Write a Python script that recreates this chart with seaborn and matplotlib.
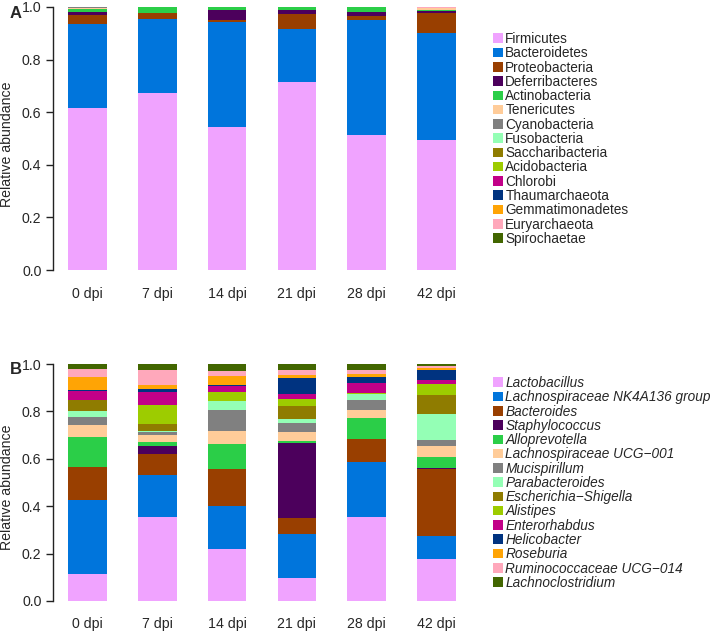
import numpy as np
import pandas as pd
import matplotlib
matplotlib.use("Agg")
import matplotlib.pyplot as plt
from matplotlib.patches import Patch
import seaborn as sns

# ---------------- data ----------------
dpi = ["0 dpi", "7 dpi", "14 dpi", "21 dpi", "28 dpi", "42 dpi"]

phyla = ["Firmicutes", "Bacteroidetes", "Proteobacteria", "Deferribacteres",
         "Actinobacteria", "Tenericutes", "Cyanobacteria", "Fusobacteria",
         "Saccharibacteria", "Acidobacteria", "Chlorobi", "Thaumarchaeota",
         "Gemmatimonadetes", "Euryarchaeota", "Spirochaetae"]
Firmicutes = [0.617, 0.672, 0.545, 0.714, 0.513, 0.493]
Bacteroidetes = [0.317, 0.282, 0.399, 0.202, 0.436, 0.408]
Proteobacteria = [0.036, 0.022, 0.008, 0.059, 0.015, 0.076]
Deferribacteres = [0.011, 0.003, 0.037, 0.015, 0.017, 0.008]
Actinobacteria = [0.013, 0.021, 0.011, 0.010, 0.019, 0.004]
Tenericutes = [0.004, 0.000, 0.000, 0.000, 0.000, 0.006]
Cyanobacteria = [0.001, 0.000, 0.000, 0.000, 0.000, 0.002]
Fusobacteria = [0.001, 0.000, 0.000, 0.000, 0.000, 0.000]
Saccharibacteria = [0.0, 0.0, 0.0, 0.0, 0.0, 0.0]
Acidobacteria = [0.0, 0.0, 0.0, 0.0, 0.0, 0.0]
Chlorobi = [0.0, 0.0, 0.0, 0.0, 0.0, 0.0]
Thaumarchaeota = [0.0, 0.0, 0.0, 0.0, 0.0, 0.0]
Gemmatimonadetes = [0.0, 0.0, 0.0, 0.0, 0.0, 0.0]
Euryarchaeota = [0.0, 0.0, 0.0, 0.0, 0.0, 0.003]
Spirochaetae = [0.0, 0.0, 0.0, 0.0, 0.0, 0.0]
phyla_values = [Firmicutes, Bacteroidetes, Proteobacteria, Deferribacteres,
                Actinobacteria, Tenericutes, Cyanobacteria, Fusobacteria,
                Saccharibacteria, Acidobacteria, Chlorobi, Thaumarchaeota,
                Gemmatimonadetes, Euryarchaeota, Spirochaetae]

genera = ["Lactobacillus", "Lachnospiraceae NK4A136 group", "Bacteroides",
          "Staphylococcus", "Alloprevotella", "Lachnospiraceae UCG\u2212001",
          "Mucispirillum", "Parabacteroides", "Escherichia\u2212Shigella",
          "Alistipes", "Enterorhabdus", "Helicobacter", "Roseburia",
          "Ruminococcaceae UCG\u2212014", "Lachnoclostridium"]
Lactobacillus = [0.115, 0.355, 0.219, 0.096, 0.355, 0.176]
Lachno_NK4A136 = [0.312, 0.177, 0.180, 0.188, 0.231, 0.098]
Bacteroides = [0.139, 0.090, 0.156, 0.067, 0.099, 0.282]
Staphylococcus = [0.000, 0.034, 0.000, 0.316, 0.000, 0.006]
Alloprevotella = [0.124, 0.015, 0.108, 0.010, 0.087, 0.046]
Lachno_UCG001 = [0.052, 0.031, 0.056, 0.036, 0.036, 0.048]
Mucispirillum = [0.036, 0.009, 0.087, 0.036, 0.040, 0.022]
Parabacteroides = [0.025, 0.005, 0.037, 0.019, 0.026, 0.111]
Escherichia = [0.043, 0.031, 0.000, 0.054, 0.000, 0.082]
Alistipes = [0.000, 0.079, 0.039, 0.029, 0.005, 0.045]
Enterorhabdus = [0.042, 0.056, 0.025, 0.021, 0.041, 0.017]
Helicobacter = [0.003, 0.014, 0.003, 0.068, 0.024, 0.042]
Roseburia = [0.055, 0.017, 0.038, 0.015, 0.014, 0.008]
Rumino_UCG014 = [0.031, 0.063, 0.021, 0.020, 0.017, 0.007]
Lachnoclostridium = [0.024, 0.024, 0.031, 0.025, 0.025, 0.010]
genera_values = [Lactobacillus, Lachno_NK4A136, Bacteroides, Staphylococcus,
                 Alloprevotella, Lachno_UCG001, Mucispirillum, Parabacteroides,
                 Escherichia, Alistipes, Enterorhabdus, Helicobacter,
                 Roseburia, Rumino_UCG014, Lachnoclostridium]

palette = ["#F0A3FF", "#0075DC", "#993F00", "#4C005C", "#2BCE48",
           "#FFCC99", "#808080", "#94FFB5", "#8F7C00", "#9DCC00",
           "#C20088", "#003380", "#FFA405", "#FFA8BB", "#426600"]

yticks = [0.0, 0.2, 0.4, 0.6, 0.8, 1.0]
ytick_labels = ["0.0", "0.2", "0.4", "0.6", "0.8", "1.0"]

# ---------------- figure ----------------
sns.set_style("ticks")
plt.rcParams['font.family'] = ['Liberation Sans', 'DejaVu Sans']

W, H = 711, 637
fig = plt.figure(figsize=(W / 100, H / 100), dpi=100)

YMIN, YMAX = -0.04, 1.0


def make_axes(left, right, zero_px, one_px):
    unit = zero_px - one_px
    bottom_px = zero_px - YMIN * unit
    top_px = zero_px - YMAX * unit
    return fig.add_axes([left / W, 1 - bottom_px / H, (right - left) / W,
                         (bottom_px - top_px) / H])


def stacked(ax, values, xpad):
    cum = np.cumsum(np.array(values), axis=0)
    for i in range(len(values) - 1, -1, -1):
        df = pd.DataFrame({"day": dpi, "v": cum[i]})
        sns.barplot(data=df, x="day", y="v", order=dpi, color=palette[i],
                    width=0.556, saturation=1, linewidth=0, errorbar=None,
                    ax=ax)
    ax.set_xlim(-0.5, 5.5)
    ax.set_ylim(YMIN, YMAX)
    sns.despine(ax=ax, bottom=True)
    ax.spines["left"].set_bounds(0, 1)
    ax.spines["left"].set_linewidth(1.0)
    ax.spines["left"].set_color("#222222")
    ax.set_yticks(yticks)
    ax.set_yticklabels(ytick_labels)
    ax.tick_params(axis="y", length=5, width=1.0, pad=3, labelsize=10.2,
                   color="#222222")
    ax.tick_params(axis="x", length=0, pad=xpad, labelsize=10.2)
    ax.set_xlabel("")
    ax.set_ylabel("Relative abundance", fontsize=10.2)
    ax.yaxis.set_label_coords(-0.093, 0.5)


axA = make_axes(52.5, 471.5, 270, 7)
stacked(axA, phyla_values, 5)
axB = make_axes(52.5, 471.5, 601, 364)
stacked(axB, genera_values, 5)

fig.text(10 / W, 1 - 13 / H, "A", fontsize=12, fontweight="bold",
         ha="left", va="center")
fig.text(10 / W, 1 - 369 / H, "B", fontsize=12, fontweight="bold",
         ha="left", va="center")

handlesA = [Patch(facecolor=c, edgecolor="none") for c in palette]
fig.legend(handlesA, phyla, loc="upper left",
           bbox_to_anchor=(493 / W, 1 - 32 / H), frameon=False,
           borderpad=0, borderaxespad=0, handlelength=0.7, handleheight=0.7,
           handletextpad=0.2, labelspacing=0.02, fontsize=9.8)

handlesB = [Patch(facecolor=c, edgecolor="none") for c in palette]
fig.legend(handlesB, genera, loc="upper left",
           bbox_to_anchor=(493 / W, 1 - 376 / H), frameon=False,
           borderpad=0, borderaxespad=0, handlelength=0.7, handleheight=0.7,
           handletextpad=0.2, labelspacing=0.02,
           prop={"size": 9.8, "style": "italic"})

fig.savefig("out.png", dpi=100)
